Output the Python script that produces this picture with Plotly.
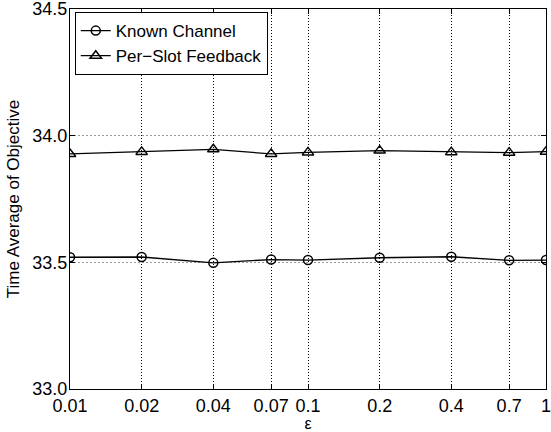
import plotly.graph_objects as go

eps = [0.01, 0.02, 0.04, 0.07, 0.1, 0.2, 0.4, 0.7, 1]
known_channel = [33.520, 33.521, 33.498, 33.511, 33.509, 33.518, 33.522, 33.508, 33.509]
per_slot = [33.928, 33.936, 33.946, 33.928, 33.934, 33.941, 33.935, 33.933, 33.937]
x_ticks = [0.01, 0.02, 0.04, 0.07, 0.1, 0.2, 0.4, 0.7, 1]
x_tick_text = ["0.01", "0.02", "0.04", "0.07", "0.1", "0.2", "0.4", "0.7", "1"]
y_ticks = [33.0, 33.5, 34.0, 34.5]
y_tick_text = ["33.0", "33.5", "34.0", "34.5"]

font = "Liberation Sans, Arial, Helvetica, sans-serif"

fig = go.Figure()
fig.add_trace(go.Scatter(
    x=eps, y=known_channel, mode="lines+markers", name="Known Channel",
    line=dict(color="black", width=1.3),
    marker=dict(symbol="circle-open", size=9, color="black", line=dict(width=1.5)),
))
fig.add_trace(go.Scatter(
    x=eps, y=per_slot, mode="lines+markers", name="Per\u2212Slot Feedback",
    line=dict(color="black", width=1.3),
    marker=dict(symbol="triangle-up-open", size=10, color="black", line=dict(width=1.5)),
))

fig.update_layout(
    width=551, height=432,
    margin=dict(l=70, r=5, t=9, b=43),
    paper_bgcolor="white", plot_bgcolor="white",
    font=dict(family=font, size=18, color="black"),
    showlegend=True,
    legend=dict(
        x=0.01, y=0.992, xanchor="left", yanchor="top",
        bgcolor="white", bordercolor="black", borderwidth=1,
        font=dict(size=17, family=font), tracegroupgap=0,
        itemwidth=30,
    ),
)
fig.update_xaxes(
    type="log", range=[-2, 0], automargin=False,
    tickvals=x_ticks, ticktext=x_tick_text,
    ticks="inside", ticklen=5, tickcolor="black",
    showline=True, linecolor="black", linewidth=1, mirror="ticks",
    showgrid=True, gridcolor="black", griddash="1px,2px", gridwidth=1,
    zeroline=False, ticklabeloverflow="allow",
    title=dict(text="\u03b5", standoff=6, font=dict(size=16)),
    tickfont=dict(size=18),
)
fig.update_yaxes(
    range=[33.0, 34.5], automargin=False,
    tickvals=y_ticks, ticktext=y_tick_text,
    ticks="inside", ticklen=5, tickcolor="black",
    showline=True, linecolor="black", linewidth=1, mirror="ticks",
    showgrid=True, gridcolor="#999999", griddash="2px,2px", gridwidth=1,
    zeroline=False, ticklabeloverflow="allow", ticklabelstandoff=-2,
    title=dict(text="Time Average of Objective", standoff=8, font=dict(size=17)),
    tickfont=dict(size=18),
)

fig.write_html("out.html", config={"displayModeBar": False},
               post_script="document.body.style.margin='0';")
